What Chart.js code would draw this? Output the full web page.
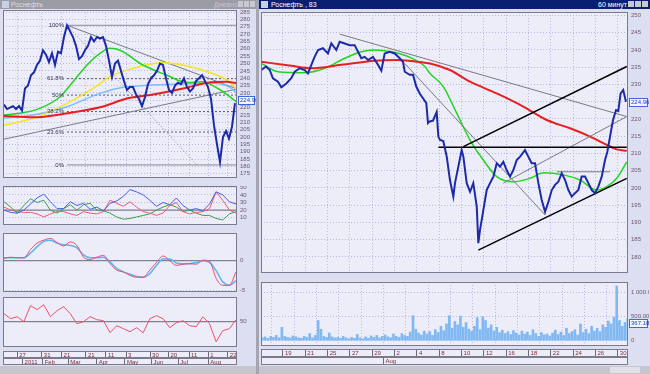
<!DOCTYPE html>
<html>
<head>
<meta charset="utf-8">
<script src="https://cdn.jsdelivr.net/npm/chart.js@4.4.1/dist/chart.umd.min.js"></script>
<style>
  body { margin: 0; width: 650px; height: 374px; overflow: hidden; position: relative; background: #dcdff1; font-family: Arial, "Liberation Sans", sans-serif; }
  canvas, .box { position: absolute; }
  .t { position: absolute; font-size: 7px; line-height: 9px; white-space: nowrap; }
</style>
</head>
<body>
<!-- window chrome -->
<div class="box" style="left:0;top:0;width:256px;height:9px;background:#9c9ca6"></div>
<div class="box" style="left:2px;top:1px;width:7px;height:7px;background:#c8d0e8"></div>
<div class="t" style="left:11px;top:0;color:#dcdce4">Роснефть</div>
<div class="t" style="left:214px;top:0;color:#c4c4cc">Дневной</div>
<div class="box" style="left:238px;top:1px;width:5px;height:6px;background:#c8c8d0"></div>
<div class="box" style="left:244px;top:1px;width:5px;height:6px;background:#c8c8d0"></div>
<div class="box" style="left:250px;top:1px;width:5px;height:6px;background:#c8c8d0"></div>
<div class="box" style="left:256px;top:0;width:3px;height:374px;background:#a4a4b2"></div>
<div class="box" style="left:259px;top:0;width:391px;height:9px;background:#0a1f72"></div>
<div class="box" style="left:261px;top:1px;width:7px;height:7px;background:#c8d0e8"></div>
<div class="t" style="left:271px;top:0;color:#ffffff">Роснефть , 83</div>
<div class="t" style="left:598px;top:0;color:#ffffff">60 минут</div>
<div class="box" style="left:628px;top:1px;width:6px;height:6px;background:#c8c8d0"></div>
<div class="box" style="left:635px;top:1px;width:6px;height:6px;background:#c8c8d0"></div>
<div class="box" style="left:642px;top:1px;width:6px;height:6px;background:#c8c8d0"></div>
<div class="box" style="left:0;top:366px;width:256px;height:8px;background:#c6c6ce"></div>
<div class="box" style="left:259px;top:366px;width:391px;height:8px;background:#c6c6ce"></div>
<div class="box" style="left:610px;top:367px;width:30px;height:6px;background:#e0e0e6"></div>
<script>
// ---------- left window: daily, 2011 ----------
const priceL = [222, 219, 220, 221, 219, 221, 218, 233, 235, 242, 244, 249, 252, 259, 256, 251, 257, 249, 258, 257,
  268, 276, 272, 268, 262, 253, 255, 259, 262, 268, 265, 268, 267, 268, 262, 252, 241, 250, 252, 245,
  238, 232, 234, 234, 229, 226, 221, 227, 236, 240, 242, 245, 250, 249, 240, 232, 230, 235, 237, 236,
  240, 234, 231, 233, 238, 240, 242, 238, 234, 226, 208, 195, 183, 200, 204, 199, 207, 223];
const lastPrice = 224.96;
const yTicksL = [175, 180, 185, 190, 195, 200, 205, 210, 215, 220, 225, 230, 235, 240, 245, 250, 255, 260, 265, 270, 275, 280, 285];

const maRedL_i = [0, 9.7, 21, 32, 41.3, 48.7, 59.7, 67.7, 74.3, 77.7];
const maRedL = [214.3, 213.4, 216.1, 220.2, 226.3, 228.5, 233, 236.9, 237.6, 236.5];
const maGreenL_i = [0, 5.3, 12, 18.7, 23, 27.7, 32, 35.3, 38.7, 46.3, 54.3, 61, 66, 71.3, 76, 77.5];
const maGreenL = [215, 216.1, 219.5, 227.4, 237.6, 249, 256.9, 260.3, 259, 249, 242, 237, 237.6, 233, 226.3, 224];
const maYellowL_i = [0, 9.7, 21, 29.7, 35.3, 43, 53, 61, 67.7, 74.3, 77.7];
const maYellowL = [208, 212.7, 222.9, 233, 241, 246.7, 250.5, 248.3, 244.4, 238.7, 232.4];
const maBlueL_i = [0, 9.7, 21, 32, 39.7, 48.7, 59.7, 69.7, 75.3, 77.7];
const maBlueL = [212.7, 215, 220.6, 229.7, 233.8, 235.3, 236, 236.5, 233.8, 229.7];

const trendL = [[21, 276, 77.3, 233], [0, 198.5, 77.3, 232.5]];
const dottedL = [[21, 276, 64.3, 181]];
const fibStart = 21, fibEnd = 77.67;
const fibNames = ['0%', '23.6%', '38.2%', '50%', '61.8%', '100%'];
const fibPrices = [181, 203.4, 217.3, 228.5, 239.7, 276];

const oscBlue = [20, 17, 16, 20, 28, 36, 41, 31, 22, 22, 31, 26, 29, 21, 24, 19, 29, 32, 38, 47, 44, 40, 33, 25, 30, 27, 36, 26, 20, 22, 19, 28, 44, 40, 31, 28];
const oscRed = [24, 20, 18, 17, 17, 15, 11, 15, 18, 18, 15, 13, 18, 16, 15, 18, 33, 29, 25, 31, 24, 18, 16, 13, 16, 26, 30, 18, 15, 17, 18, 22, 44, 33, 20, 16];
const oscGreen = [31, 24, 16, 26, 35, 30, 33, 20, 16, 22, 27, 20, 27, 29, 20, 19, 16, 11, 8, 9, 11, 13, 15, 20, 24, 27, 24, 18, 20, 16, 13, 13, 9, 7, 15, 18];
const macdRed = [0.4, 0.6, 0.5, 0.5, 1.9, 3.0, 3.5, 3.8, 3.1, 2.5, 3.2, 2.6, 0.6, 0.2, 0.6, 0.9, -0.5, -1.6, -1.9, -2.5, -2.8, -2.8, -1.6, -0.3, 0.8, 0.0, -0.8, -0.6, -0.5, -0.6, 0.1, -0.1, -3.0, -4.2, -4.2, -1.9];
const macdBlue = [0.5, 0.5, 0.5, 0.5, 1.3, 2.4, 3.3, 3.5, 3.0, 2.7, 2.6, 2.2, 1.0, 0.5, 0.5, 0.6, -0.2, -1.3, -1.9, -2.3, -2.7, -2.8, -2.2, -0.8, 0.3, 0.3, -0.4, -0.5, -0.5, -0.3, 0.0, -0.3, -1.7, -3.6, -4.2, -3.4];
const rsiRed = [58, 53, 55, 50, 66, 62, 67, 55, 61, 65, 58, 48, 50, 55, 52, 51, 39, 46, 43, 40, 44, 39, 53, 56, 53, 44, 49, 51, 46, 45, 55, 48, 30, 41, 43, 52];

const dateTicksL1 = [4.4, 12.6, 19.2, 27.3, 34, 40.7, 48.7, 54.8, 61.7, 68.1, 74.6];
const dateLabelsL1 = ['27', '31', '21', '21', '11', '3', '30', '20', '11', '1', '22'];
const dateTicksL2 = [6.2, 12.9, 21.4, 30.9, 40.3, 49.2, 58.1, 68.1];
const dateLabelsL2 = ['2011', 'Feb', 'Mar', 'Apr', 'May', 'Jun', 'Jul', 'Aug'];

// ---------- right window: 60 min, trading days from 19 Jul ----------
const rDay = [-1.94, -1.52, -1.19, -0.90, -0.45, -0.15, 0.30, 0.74, 1.05, 1.50,
  1.94, 2.24, 2.54, 2.84, 3.14, 3.58, 4.03, 4.33, 4.78, 5.08,
  5.53, 5.98, 6.42, 6.72, 7.02, 7.32, 7.62, 8.06, 8.51, 8.81,
  9.11, 9.56, 10.01, 10.46, 10.75, 10.91, 11.35, 11.65, 11.94, 12.25,
  12.54, 12.84, 12.99, 13.15, 13.44, 13.77, 13.92, 14.07, 14.36, 14.67,
  14.96, 15.26, 15.41, 15.71, 16.01, 16.16, 16.46, 16.76, 17.05, 17.36,
  17.50, 17.65, 17.95, 18.25, 18.55, 18.85, 19.15, 19.44, 19.74, 20.04,
  20.34, 20.64, 20.94, 21.24, 21.68, 21.98, 22.28, 22.58, 22.88, 23.18,
  23.48, 23.78, 24.08, 24.37, 24.67, 24.97, 25.27, 25.57, 25.87, 26.16,
  26.46, 26.76, 27.06, 27.36, 27.66, 27.96, 28.25, 28.56, 28.85, 29.06,
  29.30, 29.57, 29.84, 30.04, 30.25, 30.48, 30.73];
const rPrice = [234.2, 235.2, 234.2, 231.8, 230.8, 229.2, 230.3, 231.8, 233.7, 234.7,
  234.2, 233.2, 235.7, 238.1, 240, 240.5, 239, 241.9, 240, 242.4,
  241.9, 241.4, 241.4, 239.5, 237.6, 238, 237.1, 238, 235.7, 234,
  239, 239.5, 239, 237.6, 236.6, 233.7, 232.8, 232.8, 229.4, 227.4,
  226, 224.6, 218.8, 219.3, 219.5, 222, 214.9, 213.9, 213.6, 209.1,
  202.3, 197.5, 201.4, 206.2, 211, 209.1, 201.4, 198.9, 201.4, 194.6,
  184, 187.8, 193.6, 199.4, 201.4, 203.3, 207.2, 206.2, 207.6, 205.2,
  203.3, 205.2, 208.1, 209.1, 211, 209.1, 207.2, 207.2, 201.4, 196.5,
  193.1, 196, 199.4, 200.9, 201.8, 204.3, 202.3, 199.4, 197.5, 198.5,
  199.4, 203.3, 203.3, 201.4, 199.4, 198.5, 200.4, 203.3, 208.1, 210.5,
  214.9, 219.7, 222.6, 222.3, 227.4, 228.4, 225];
const yTicksR = [180, 185, 190, 195, 200, 205, 210, 215, 220, 225, 230, 235, 240, 245, 250];

const maRedR_d = [-1.94, 0.74, 2.54, 5.22, 8.22, 10.30, 12.70, 13.17, 14.96, 16.76, 19.15, 21.53, 23.63, 25.72, 27.51, 29.01, 29.90, 30.80];
const maRedR = [236.6, 235.4, 234.7, 235.7, 236.9, 237.1, 236.3, 236.1, 234.2, 230.8, 227.4, 223.6, 219.7, 217.3, 214.9, 212.5, 211.2, 210.8];
const maGreenR_d = [-1.94, -0.45, 1.94, 3.74, 5.53, 7.02, 8.22, 9.70, 11.20, 12.70, 13.17, 14.36, 15.56, 16.76, 17.95, 19.15, 20.64, 22.13, 23.33, 25.12, 26.61, 28.11, 29.01, 29.90, 30.80];
const maGreenR = [236.1, 233.7, 233.4, 234.7, 237.6, 239.5, 240, 239.5, 238.1, 235.2, 233.2, 229.4, 221.7, 213.9, 208.1, 203.3, 201.8, 202.8, 204.4, 203.8, 202.3, 199.4, 200.4, 202.8, 207.6];

const grayR = [[5.08, 244.6, 30.80, 220.7], [10.91, 236.1, 23.48, 192.2], [19.74, 201.4, 30.80, 220.7], [24.53, 204.7, 29.30, 204.7]];
const blackR = [[16.16, 212, 30.80, 235.2], [13.92, 211.8, 30.80, 211.8], [17.50, 182, 30.80, 202.8]];

const volStart = -1.85, volStep = 0.25;
const volR = [60, 80, 50, 90, 70, 110, 60, 280, 90, 70, 60, 100, 80, 60, 50, 90,
  70, 150, 60, 110, 420, 240, 90, 70, 160, 80, 60, 70, 50, 90, 60, 40,
  70, 50, 130, 60, 40, 80, 50, 100, 70, 110, 60, 90, 120, 80, 60, 140,
  90, 70, 150, 110, 90, 180, 520, 240, 160, 120, 200, 140, 190, 110, 230, 170,
  300, 210, 350, 520, 260, 400, 330, 510, 280, 380, 240, 200, 300, 480, 230, 500,
  420, 260, 330, 200, 280, 170, 220, 150, 190, 130, 210, 160, 120, 200, 140, 180,
  110, 230, 150, 90, 170, 120, 140, 100, 160, 220, 130, 180, 110, 260, 150, 190,
  230, 120, 350, 170, 240, 150, 300, 200, 260, 190, 330, 280, 410, 350, 490, 1140,
  420, 300, 380, 460];
const volTicks = [0, 500, 1000];
const volLabels = ['0', '500.000', '1 000.0'];
const lastVol = 369, lastVolText = '367.18';

const dateTicksR1 = [0, 2, 4, 6, 8, 10, 12, 14, 16, 18, 20, 22, 24, 26, 28, 30];
const dateLabelsR1 = ['19', '21', '25', '27', '29', '2', '4', '8', '10', '12', '16', '18', '22', '24', '26', '30'];
const dateTicksR2 = [9];
const dateLabelsR2 = ['Aug'];

// ---------- drawing ----------
const GRID = '#b3bbe3';
const PANEL_BG = '#ededf9';
const AXIS_TXT = '#6c5470';
const DATE_TXT = '#7a2a3a';

const pts = (xs, ys) => ys.map((y, i) => ({x: xs[i], y}));
const seq = ys => ys.map((y, i) => ({x: i, y}));
const seg = s => [{x: s[0], y: s[1]}, {x: s[2], y: s[3]}];
const smooth = {cubicInterpolationMode: 'monotone'};
function line(data, color, width, extra) {
  return Object.assign({data, borderColor: color, borderWidth: width, pointRadius: 0, fill: false, tension: 0}, extra || {});
}

const panelBox = {
  id: 'panelBox',
  beforeDraw(chart) {
    const a = chart.chartArea, ctx = chart.ctx;
    ctx.save();
    ctx.fillStyle = PANEL_BG;
    ctx.fillRect(a.left, a.top, a.right - a.left, a.bottom - a.top);
    ctx.restore();
  },
  afterDraw(chart) {
    const a = chart.chartArea, ctx = chart.ctx;
    ctx.save();
    ctx.strokeStyle = '#7a7a8c';
    ctx.lineWidth = 1;
    ctx.strokeRect(a.left + 0.5, a.top + 0.5, a.right - a.left - 1, a.bottom - a.top - 1);
    ctx.restore();
  }
};

function lastBox(text, value) {
  return {
    id: 'lastBox',
    afterDraw(chart) {
      const {ctx, chartArea: a} = chart;
      const y = Math.round(chart.scales.y.getPixelForValue(value));
      const w = chart.width - a.right - 2;
      ctx.save();
      ctx.fillStyle = '#f2f6ff';
      ctx.fillRect(a.right + 1, y - 4, w, 9);
      ctx.strokeStyle = '#3a6ad8';
      ctx.strokeRect(a.right + 1.5, y - 3.5, w - 1, 8);
      ctx.fillStyle = '#2040c0';
      ctx.font = '6px Arial';
      ctx.textBaseline = 'middle';
      ctx.fillText(text, a.right + 3, y + 0.5);
      ctx.restore();
    }
  };
}

const fibText = {
  id: 'fibText',
  afterDatasetsDraw(chart) {
    const {ctx, scales: {x, y}} = chart;
    ctx.save();
    ctx.font = '6px Arial';
    ctx.fillStyle = '#34344a';
    ctx.textAlign = 'right';
    ctx.textBaseline = 'middle';
    fibPrices.forEach((p, i) => ctx.fillText(fibNames[i], x.getPixelForValue(fibStart) - 3, y.getPixelForValue(p)));
    ctx.restore();
  }
};

function rowLabels(ticks, labels) {
  return {
    id: 'rowLabels',
    afterDraw(chart) {
      const {ctx, chartArea: a, scales: {x}} = chart;
      ctx.save();
      ctx.font = '6px Arial';
      ctx.fillStyle = DATE_TXT;
      ctx.textBaseline = 'middle';
      ticks.forEach((t, i) => ctx.fillText(labels[i], x.getPixelForValue(t) + 2, (a.top + a.bottom) / 2 + 0.5));
      ctx.restore();
    }
  };
}

function panel(left, top, w, h, axisW, o) {
  const c = document.createElement('canvas');
  c.width = w; c.height = h;
  c.style.left = left + 'px'; c.style.top = top + 'px';
  document.body.appendChild(c);
  const noPad = s => { s.paddingTop = 0; s.paddingBottom = 0; s.paddingLeft = 0; s.paddingRight = 0; };
  return new Chart(c, {
    type: o.type || 'line',
    data: {datasets: o.datasets || []},
    options: {
      responsive: false, animation: false, devicePixelRatio: 1,
      layout: {padding: 0},
      plugins: {legend: {display: false}, tooltip: {enabled: false}},
      scales: {
        x: {
          type: 'linear', min: o.xMin, max: o.xMax, offset: false,
          afterBuildTicks: s => { s.ticks = (o.xGrid || []).map(v => ({value: v})); },
          afterFit: s => { s.height = 0; noPad(s); },
          ticks: {display: false},
          grid: {display: !!o.xGrid, color: o.xGridColor || GRID, drawTicks: false},
          border: {display: false, dash: o.xDash || [1, 2]}
        },
        y: {
          display: axisW > 0, position: 'right', min: o.yMin, max: o.yMax,
          afterBuildTicks: s => { s.ticks = (o.yTicks || []).map(v => ({value: v})); },
          afterFit: s => { s.width = axisW; noPad(s); },
          ticks: {font: {family: 'Arial', size: 6}, color: AXIS_TXT, padding: 3, autoSkip: false,
                  callback: (v, i) => o.yLabels ? o.yLabels[i] : String(v)},
          grid: {color: GRID, drawTicks: false},
          border: {display: false, dash: [1, 2]}
        }
      }
    },
    plugins: [panelBox].concat(o.plugins || [])
  });
}

// left price panel
const fibSets = fibPrices.map((p, i) => line(seg([fibStart, p, fibEnd, p]),
  (i === 0 || i === 5) ? '#8a8a96' : '#5a5a6a', 1, (i === 0 || i === 5) ? {} : {borderDash: [2, 2]}));
panel(3, 10, 253, 168, 19, {
  xMin: -0.33, xMax: 77.67, yMin: 172.1, yMax: 286.4,
  xGrid: dateTicksL1, yTicks: yTicksL,
  datasets: [
    line(seq(priceL), '#1c2aa8', 2),
    line(pts(maRedL_i, maRedL), '#e62020', 2, smooth),
    line(pts(maGreenL_i, maGreenL), '#22d422', 1.5, smooth),
    line(pts(maYellowL_i, maYellowL), '#f2e620', 1.5, smooth),
    line(pts(maBlueL_i, maBlueL), '#7cbcff', 1.5, smooth),
    ...trendL.map(s => line(seg(s), '#7a7a86', 1)),
    ...dottedL.map(s => line(seg(s), '#8a8a96', 1, {borderDash: [1, 2]})),
    ...fibSets
  ],
  plugins: [fibText, lastBox(lastPrice.toFixed(2), lastPrice)]
});

// left indicator panels
panel(3, 186, 253, 39, 19, {
  xMin: -0.15, xMax: 35.15, yMin: 0.4, yMax: 51.7, yTicks: [10, 20, 30, 40, 50],
  datasets: [
    line(seq(oscBlue), '#4a5cf0', 1),
    line(seq(oscRed), '#f05a6a', 1),
    line(seq(oscGreen), '#38a048', 1),
    line(seg([-0.15, 20, 35.15, 20]), '#6a6a7a', 1)
  ]
});
panel(3, 233, 253, 59, 19, {
  xMin: -0.15, xMax: 35.15, yMin: -5.33, yMax: 4.72, yTicks: [-5, 0],
  datasets: [
    line(seq(macdRed), '#f04a6a', 1, smooth),
    line(seq(macdBlue), '#5ab4f8', 1.5, smooth),
    line(seg([-0.15, 0, 35.15, 0]), '#6a6a7a', 1)
  ]
});
panel(3, 297, 253, 50, 19, {
  xMin: -0.15, xMax: 35.15, yMin: 24.7, yMax: 74.7, yTicks: [50],
  datasets: [
    line(seq(rsiRed), '#f0506a', 1),
    line(seg([-0.15, 50, 35.15, 50]), '#6a6a7a', 1)
  ]
});

// left date rows
panel(3, 351, 234, 7, 0, {xMin: -0.33, xMax: 77.67, xGrid: dateTicksL1, xGridColor: '#6a6a78', xDash: [],
  plugins: [rowLabels(dateTicksL1, dateLabelsL1)]});
panel(3, 358, 234, 7, 0, {xMin: -0.33, xMax: 77.67, xGrid: dateTicksL2, xGridColor: '#6a6a78', xDash: [],
  plugins: [rowLabels(dateTicksL2, dateLabelsL2)]});

// right price panel
panel(261, 12, 388, 261, 21, {
  xMin: -1.97, xMax: 30.91, yMin: 175.36, yMax: 251.01,
  xGrid: dateTicksR1, yTicks: yTicksR,
  datasets: [
    line(pts(rDay, rPrice), '#1c2aa8', 2),
    ...blackR.map(s => line(seg(s), '#000000', 1.5)),
    ...grayR.map(s => line(seg(s), '#7a7a86', 1)),
    line(pts(maRedR_d, maRedR), '#e62020', 2, smooth),
    line(pts(maGreenR_d, maGreenR), '#22d422', 1.5, smooth)
  ],
  plugins: [lastBox(lastPrice.toFixed(2), lastPrice)]
});

// right volume panel
panel(261, 282, 388, 64, 21, {
  type: 'bar',
  xMin: -1.97, xMax: 30.91, yMin: -110, yMax: 1223,
  xGrid: dateTicksR1, yTicks: volTicks, yLabels: volLabels,
  datasets: [{
    data: volR.map((v, k) => ({x: volStart + k * volStep, y: v})),
    backgroundColor: '#80b8f4', borderWidth: 0, barThickness: 2, grouped: false
  }],
  plugins: [lastBox(lastVolText, lastVol)]
});

// right date rows
panel(261, 349, 367, 8, 0, {xMin: -1.97, xMax: 30.91, xGrid: dateTicksR1, xGridColor: '#6a6a78', xDash: [],
  plugins: [rowLabels(dateTicksR1, dateLabelsR1)]});
panel(261, 357, 367, 8, 0, {xMin: -1.97, xMax: 30.91, xGrid: dateTicksR2, xGridColor: '#6a6a78', xDash: [],
  plugins: [rowLabels(dateTicksR2, dateLabelsR2)]});
</script>
</body>
</html>
